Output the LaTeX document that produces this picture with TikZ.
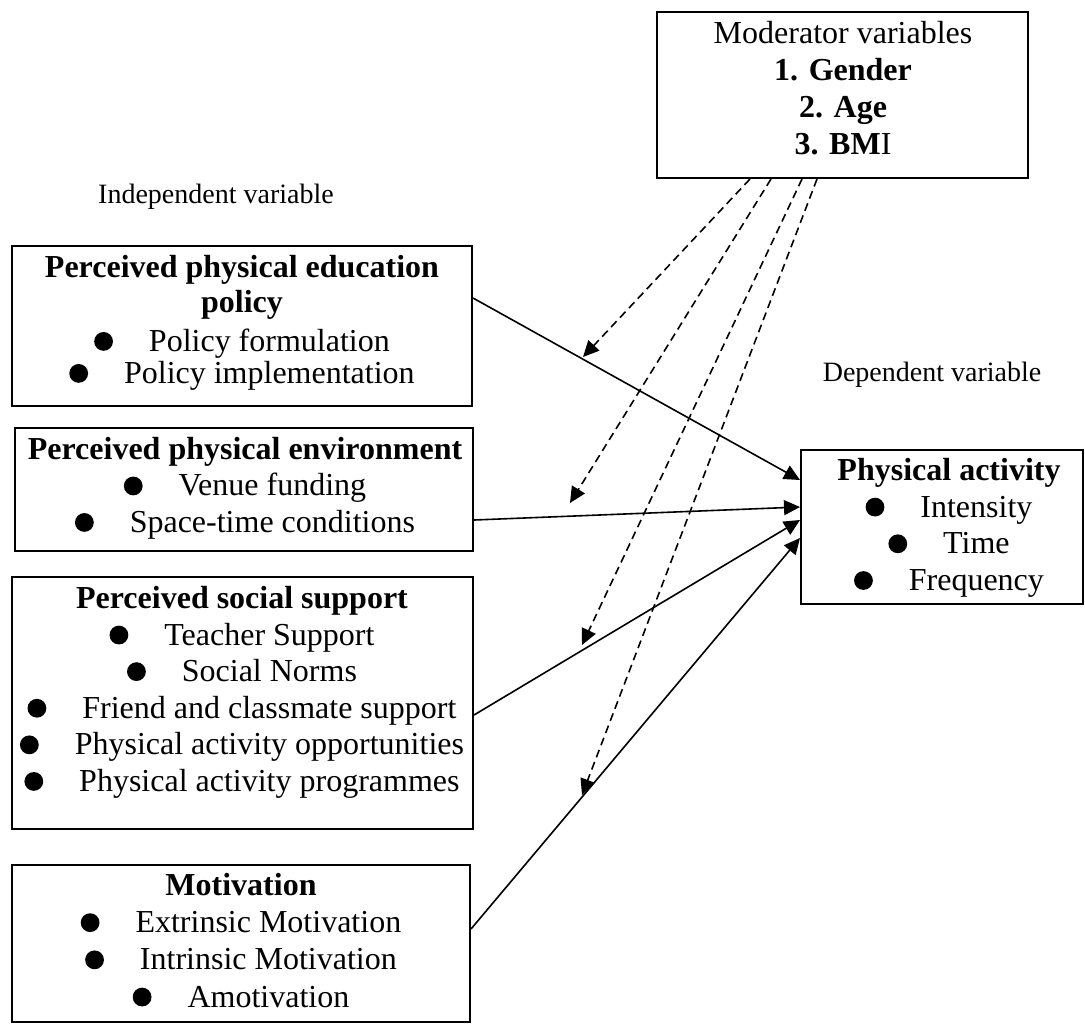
\documentclass[tikz,border=0pt]{standalone}
\usepackage{fontspec}
\setmainfont{Liberation Serif}
\usetikzlibrary{arrows.meta}
\newcommand{\bul}{\tikz[baseline={(0,-5pt)}]\fill (0,0) circle (4.7pt);\hspace{18pt}}

\begin{document}
\begin{tikzpicture}[x=0.5pt,y=-0.5pt,
    box/.style={draw,line width=1pt,inner sep=0pt},
    txt/.style={anchor=north,align=center,inner sep=0pt},
    lbl/.style={anchor=base,inner sep=0pt,font=\fontsize{14}{16}\selectfont},
    link/.style={line width=0.8pt,-{Triangle[length=8pt,width=7.5pt]}},
    modlink/.style={link,dash pattern=on 4pt off 2.5pt}]
  \useasboundingbox (0,0) rectangle (1085,1028);

  % moderators
  \node[box,minimum width=185.5pt,minimum height=83pt] (mod) at (842.5,95) {};
  \node[txt,font=\fontsize{16}{18.5}\selectfont] (modT) at (843,17) {\strut Moderator variables\\ \textbf{1. Gender}\\ \textbf{2. Age}\\ \textbf{3. BM}I};

  \node[lbl] (indep) at (216,203) {Independent variable};
  \node[lbl] (dep) at (932,381) {Dependent variable};

  % independent variables
  \node[box,minimum width=230pt,minimum height=80pt] (pol) at (242,326) {};
  \node[txt,font=\fontsize{16}{17.5}\selectfont] (polT) at (242,252.5) {\strut\textbf{Perceived physical education}\\ \textbf{policy}\\[2pt] \bul Policy formulation\\[-1.5pt] \bul Policy implementation};

  \node[box,minimum width=229pt,minimum height=61.5pt] (env) at (244,489.5) {};
  \node[txt,font=\fontsize{16}{18.25}\selectfont] (envT) at (245,433.5) {\strut\textbf{Perceived physical environment}\\ \bul Venue funding\\ \bul Space-time conditions};

  \node[box,minimum width=230.5pt,minimum height=126pt] (soc) at (242.5,703) {};
  \node[txt,font=\fontsize{16}{18.3}\selectfont] (socT) at (242,582.4) {\strut\textbf{Perceived social support}\\ \bul Teacher Support\\ \bul Social Norms\\ \bul Friend and classmate support\\ \bul Physical activity opportunities\\ \bul Physical activity programmes};

  \node[box,minimum width=229pt,minimum height=78.5pt] (mot) at (241,943.5) {};
  \node[txt,font=\fontsize{16}{18.6}\selectfont] (motT) at (241,869) {\strut\textbf{Motivation}\\ \bul Extrinsic Motivation\\ \bul Intrinsic Motivation\\ \bul Amotivation};

  % dependent variable
  \node[box,minimum width=141pt,minimum height=77pt] (pa) at (942,527) {};
  \node[txt,font=\fontsize{16}{18.35}\selectfont] (paT) at (949,454.3) {\strut\textbf{Physical activity}\\ \bul Intensity\\ \bul Time\\ \bul Frequency};

  \draw[link] ([yshift=14pt]pol.east) -- ([yshift=23.5pt]pa.west);
  \draw[link] ([yshift=-15.25pt]env.east) -- ([yshift=10pt]pa.west);
  \draw[link] ([yshift=-6pt]soc.east) -- ([yshift=3.5pt]pa.west);
  \draw[link] ([yshift=7.25pt]mot.east) -- ([yshift=-5.5pt]pa.west);

  % moderating effects
  \coordinate (t1) at (583,357);
  \coordinate (t2) at (570,503);
  \coordinate (t3) at (582,645);
  \coordinate (t4) at (582,795);
  \draw[modlink] ([xshift=-46.25pt]mod.south) -- (t1);
  \draw[modlink] ([xshift=-35.75pt]mod.south) -- (t2);
  \draw[modlink] ([xshift=-20.25pt]mod.south) -- (t3);
  \draw[modlink] ([xshift=-12.75pt]mod.south) -- (t4);
\end{tikzpicture}
\end{document}
